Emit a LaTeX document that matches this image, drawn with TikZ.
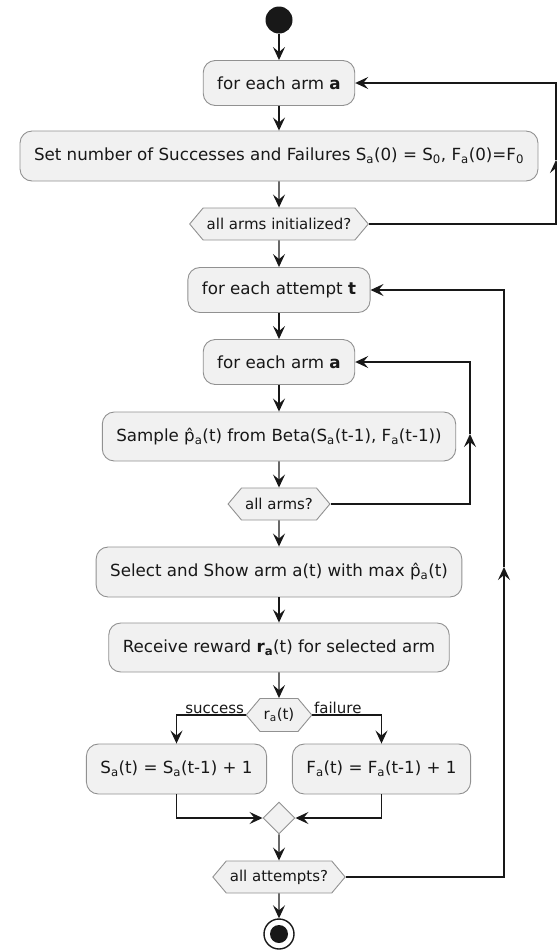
\documentclass[tikz,border=0pt]{standalone}
\usepackage{fontspec}
\setmainfont{DejaVu Sans}
\usetikzlibrary{arrows.meta,shapes.geometric,shapes.symbols}
\definecolor{boxfill}{HTML}{F1F1F1}
\definecolor{boxline}{HTML}{919191}
\definecolor{ink}{HTML}{181818}
\tikzset{
  act/.style={draw=boxline, fill=boxfill, line width=.9pt, rounded corners=12pt,
    inner xsep=14pt, minimum height=45pt, text=ink, font=\fontsize{16.7}{20}\selectfont},
  cond/.style={signal, signal to=west and east, signal pointer angle=100,
    draw=boxline, fill=boxfill, line width=.9pt, inner xsep=3.6pt, inner ysep=2pt,
    minimum height=32pt, text=ink, font=\fontsize{15}{18}\selectfont},
  flow/.style={draw=ink, line width=1.3pt, -{Stealth[length=13pt,width=12pt,inset=5pt]}},
  lbl/.style={font=\fontsize{15}{18}\selectfont, inner sep=1.5pt, text=ink}
}
\begin{document}
\begin{tikzpicture}[x=1pt, y=-1pt]
\useasboundingbox (0,0) rectangle (557,951);

\node[circle, fill=ink, minimum size=27pt, inner sep=0] (start) at (279,20) {};
\node[act] (armA) at (279,83) {for each arm \textbf{a}};
\node[act, minimum height=50pt] (setSF) at (279,156) {Set number of Successes and Failures S\textsubscript{a}(0) = S\textsubscript{0}, F\textsubscript{a}(0)=F\textsubscript{0}};
\node[cond] (init) at (279,224) {all arms initialized?};

\node[act] (attempt) at (279,290) {for each attempt \textbf{t}};
\node[act] (armB) at (279,362) {for each arm \textbf{a}};
\node[act, minimum height=49pt] (sample) at (279,436.5) {Sample p̂\textsubscript{a}(t) from Beta(S\textsubscript{a}(t-1), F\textsubscript{a}(t-1))};
\node[cond] (allarms) at (279,504) {all arms?};
\node[act, minimum height=50pt] (select) at (279,572) {Select and Show arm a(t) with max p̂\textsubscript{a}(t)};
\node[act, minimum height=49pt] (reward) at (279,647.5) {Receive reward \textbf{r}\textsubscript{\textbf{a}}(t) for selected arm};
\node[cond, minimum height=33pt] (rcond) at (279,715) {r\textsubscript{a}(t)};
\node[act, minimum height=50pt] (incS) at (176.5,769) {S\textsubscript{a}(t) = S\textsubscript{a}(t-1) + 1};
\node[act, minimum height=50pt] (incF) at (381.5,769) {F\textsubscript{a}(t) = F\textsubscript{a}(t-1) + 1};
\node[diamond, draw=boxline, fill=boxfill, line width=.9pt, minimum width=32pt, minimum height=32pt, inner sep=0] (merge) at (279,818) {};
\node[cond] (allatt) at (279,877) {all attempts?};

\node[circle, draw=ink, line width=1.4pt, fill=white, minimum size=30pt, inner sep=0] (stop) at (279,934) {};
\node[circle, fill=ink, minimum size=18pt, inner sep=0] (stopdot) at (stop) {};

% main line
\draw[flow] (start) -- (armA);
\draw[flow] (armA) -- (setSF);
\draw[flow] (setSF) -- (init);
\draw[flow] (init) -- (attempt);
\draw[flow] (attempt) -- (armB);
\draw[flow] (armB) -- (sample);
\draw[flow] (sample) -- (allarms);
\draw[flow] (allarms) -- (select);
\draw[flow] (select) -- (reward);
\draw[flow] (reward) -- (rcond);
\draw[flow] (merge) -- (allatt);
\draw[flow] (allatt) -- (stop);

% branches
\draw[flow] (rcond.west) -| (incS.north);
\draw[flow] (rcond.east) -| (incF.north);
\node[lbl, anchor=south east] (lsucc) at (rcond.west) {success};
\node[lbl, anchor=south west] (lfail) at (rcond.east) {failure};
\draw[flow] (incS.south) |- (merge.west);
\draw[flow] (incF.south) |- (merge.east);

% loops back
\coordinate (loopA) at (556,160);
\draw[flow] (init.east) -| (loopA);
\draw[flow] (loopA) |- (armA.east);
\coordinate (loopB) at (470,434);
\draw[flow] (allarms.east) -| (loopB);
\draw[flow] (loopB) |- (armB.east);
\coordinate (loopC) at (504,567);
\draw[flow] (allatt.east) -| (loopC);
\draw[flow] (loopC) |- (attempt.east);

\end{tikzpicture}
\end{document}
